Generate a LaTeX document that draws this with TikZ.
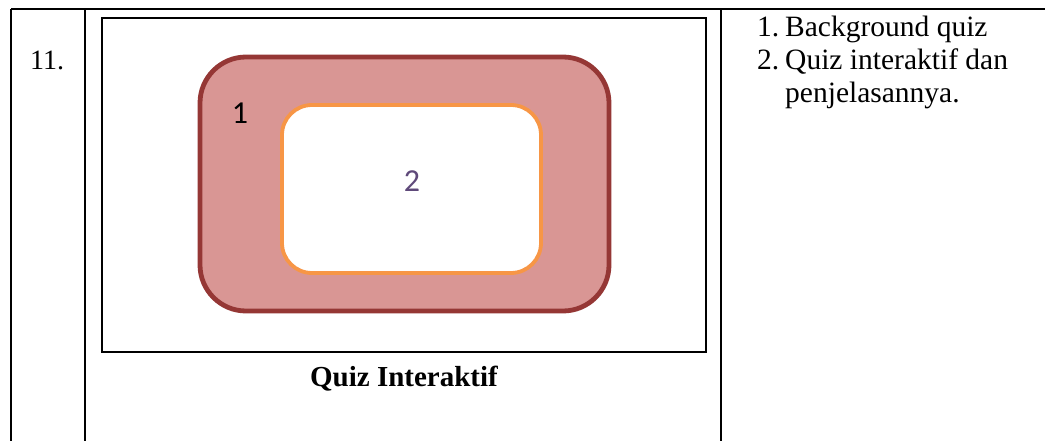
\documentclass[tikz,border=0pt]{standalone}
\usepackage{fontspec}
\setmainfont{Liberation Serif}
\newfontfamily\labelfont{Carlito}
\definecolor{outerline}{HTML}{953735}
\definecolor{outerfill}{HTML}{D99694}
\definecolor{innerline}{HTML}{F79646}
\definecolor{numcolor}{HTML}{5F497A}
\tikzset{
  rule/.style={line width=2pt, black},
  frame/.style={line width=2.8pt, black},
  bgpanel/.style={draw=outerline, fill=outerfill, line width=4.8pt, rounded corners=46pt},
  quizpanel/.style={draw=innerline, fill=white, line width=3.8pt, rounded corners=30pt},
  bodytext/.style={inner sep=0pt, anchor=base west, font=\fontsize{29.5}{33}\selectfont},
  tag/.style={inner sep=0pt, font=\labelfont\fontsize{32}{36}\selectfont}
}
\begin{document}
\begin{tikzpicture}[x=1pt, y=-1pt]
\useasboundingbox (0,0) rectangle (1045,441);

% table rules
\coordinate (tl) at (11,9);
\coordinate (tr) at (1045,9);
\coordinate (c1) at (85,9);
\coordinate (c2) at (721,9);
\draw[rule] (tl) -- (tr);
\draw[rule] (tl) -- (11,441);
\draw[rule] (c1) -- (85,441);
\draw[rule] (c2) -- (721,441);

% row number
\node[inner sep=0pt, anchor=base west, font=\fontsize{28}{32}\selectfont] (rownum) at (30,70) {11.};

% screen frame
\draw[frame] (102,18) rectangle (706,352);

% background and quiz areas
\draw[bgpanel] (200,57) rectangle (609,311);
\draw[quizpanel] (282,105) rectangle (541,273);
\node[tag] (lbl1) at (240,113) {1};
\node[tag, text=numcolor] (lbl2) at (412,181) {2};

% caption
\node[inner sep=0pt, anchor=base, font=\bfseries\fontsize{29}{32}\selectfont] (caption) at (404,386) {Quiz Interaktif};

% description list
\node[bodytext] (n1) at (757,37) {1.};
\node[bodytext] (t1) at (785,37) {Background quiz};
\node[bodytext] (n2) at (757,70) {2.};
\node[bodytext] (t2) at (785,70) {Quiz interaktif dan};
\node[bodytext] (t3) at (785,103) {penjelasannya.};
\end{tikzpicture}
\end{document}
